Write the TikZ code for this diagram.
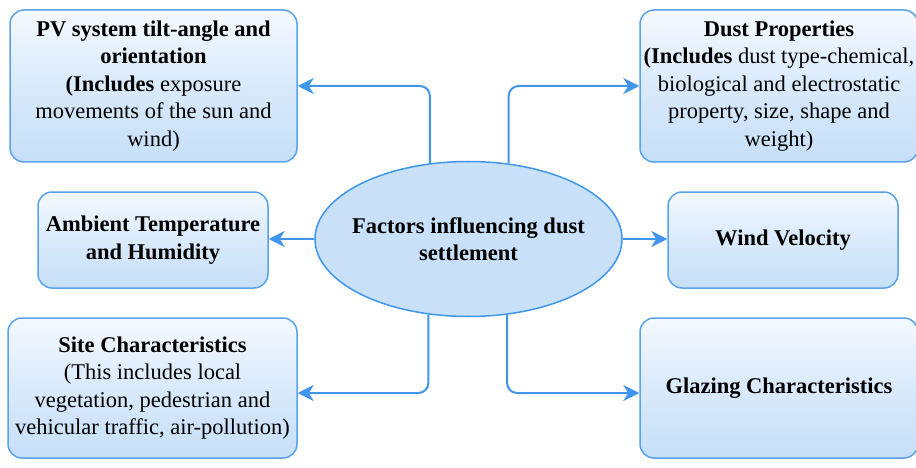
\documentclass[tikz,border=0pt]{standalone}
\usepackage{fontspec}
\setmainfont{Liberation Serif}
\usetikzlibrary{arrows.meta,shapes.geometric}
\definecolor{bd}{HTML}{5AA3EA}
\definecolor{ar}{HTML}{3F96EC}
\definecolor{boxtop}{HTML}{F4F9FF}
\definecolor{boxmid}{HTML}{D9EAFB}
\definecolor{boxbot}{HTML}{C6DFF8}
\definecolor{ellfill}{HTML}{C8E1F9}
\tikzset{
  fbox/.style={draw=bd, line width=1.5pt, rounded corners=14pt,
    top color=boxtop, bottom color=boxbot, middle color=boxmid,
    align=center, inner sep=1pt, text=black,
    font=\fontsize{22.5}{27.5}\selectfont},
  conn/.style={draw=ar, line width=2pt, rounded corners=10pt,
    -{Stealth[length=16pt,width=16pt,inset=5pt]}},
  ell/.style={ellipse, draw=ar, line width=1.5pt, fill=ellfill, align=center,
    inner sep=-20pt, font=\fontsize{22.5}{27}\selectfont\bfseries}
}
\begin{document}
\begin{tikzpicture}[x=1pt,y=-1pt]
\useasboundingbox (0,0) rectangle (916,468);
% boxes
\node[fbox, minimum width=287pt, minimum height=152pt] (pv) at (153.5,86)
  {\textbf{PV system tilt-angle and}\\ \textbf{orientation}\\ \textbf{(Includes} exposure\\ movements of the sun and\\ wind)};
\node[fbox, minimum width=278pt, minimum height=152pt] (dust) at (779,86)
  {\textbf{Dust Properties}\\ \textbf{(Includes} dust type-chemical,\\ biological and electrostatic\\ property, size, shape and\\ weight)};
\node[fbox, minimum width=230pt, minimum height=96pt] (amb) at (153,240)
  {\textbf{Ambient Temperature}\\ \textbf{and Humidity}};
\node[fbox, minimum width=230pt, minimum height=96pt] (wind) at (783,240)
  {\textbf{Wind Velocity}};
\node[fbox, minimum width=289pt, minimum height=140pt] (site) at (152.5,388)
  {\textbf{Site Characteristics}\\ (This includes local\\ vegetation, pedestrian and\\ vehicular traffic, air-pollution)};
\node[fbox, minimum width=278pt, minimum height=140pt] (glaz) at (779,388)
  {\textbf{Glazing Characteristics}};
% centre
\node[ell, minimum width=307pt, minimum height=155pt] (fac) at (468.5,239)
  {Factors influencing dust\\ settlement};
% connectors
\draw[conn] (fac.117.2) |- (pv.east);
\draw[conn] (fac.62.8) |- (dust.west);
\draw[conn] (fac.west) -- (fac.west -| amb.east);
\draw[conn] (fac.east) -- (fac.east -| wind.west);
\draw[conn] (fac.242.8) |- ([yshift=-5pt]site.east);
\draw[conn] (fac.297.2) |- ([yshift=-5pt]glaz.west);
\end{tikzpicture}
\end{document}
